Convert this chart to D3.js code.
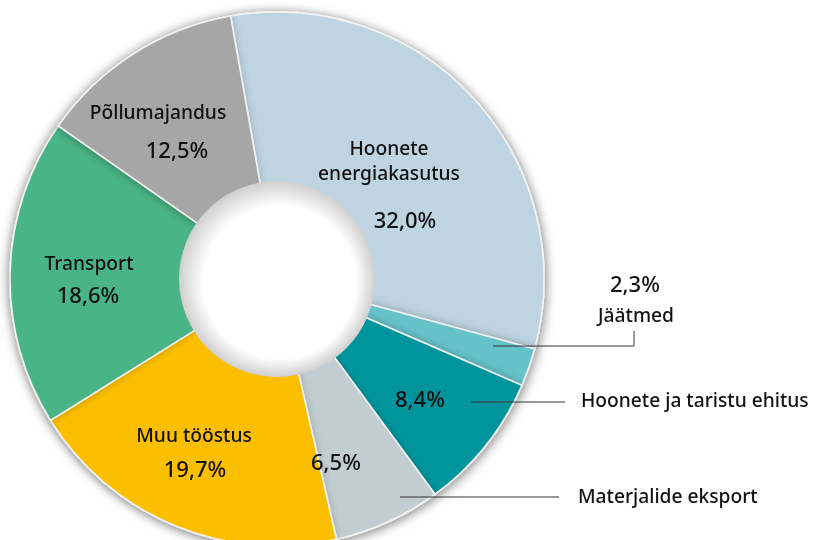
<!DOCTYPE html>
<html>
<head>
<meta charset="utf-8">
<script src="https://cdn.jsdelivr.net/npm/d3@7"></script>
<style>
  body { margin: 0; background: #fff; }
  svg { display: block; font-family: "Noto Sans", "Open Sans", sans-serif; }
</style>
</head>
<body>
<svg id="chart" width="818" height="540"></svg>
<script>
// data, clockwise from top
const categories = ["Hoonete energiakasutus", "Jäätmed", "Hoonete ja taristu ehitus",
  "Materjalide eksport", "Muu tööstus", "Transport", "Põllumajandus"];
const shares = [32.0, 2.3, 8.4, 6.5, 19.7, 18.6, 12.5];
const sliceColors = ["#bed4e1", "#66c2c9", "#03959c", "#c2cdd1", "#fcbf00", "#48b586", "#a6a6a6"];

const fmt = v => d3.format(".1f")(v).replace(".", ",") + "%";

const svg = d3.select("#chart");
const cx = 277, cy = 279;
const outerR = 267, innerR = 98;
const nameSize = 19.2, pctSize = 22;

const defs = svg.append("defs");
defs.append("filter").attr("id", "outer").attr("x", "-20%").attr("y", "-20%")
  .attr("width", "140%").attr("height", "140%")
  .append("feDropShadow").attr("dx", 3).attr("dy", 3).attr("stdDeviation", 5)
  .attr("flood-color", "#000").attr("flood-opacity", 0.28);
defs.append("filter").attr("id", "slice").attr("x", "-20%").attr("y", "-20%")
  .attr("width", "140%").attr("height", "140%")
  .append("feDropShadow").attr("dx", -2).attr("dy", 0).attr("stdDeviation", 5)
  .attr("flood-color", "#000").attr("flood-opacity", 0.3);
const hole = defs.append("radialGradient").attr("id", "hole")
  .attr("cx", "50%").attr("cy", "50%").attr("r", "50%")
  .attr("fx", "57%").attr("fy", "58%");
hole.append("stop").attr("offset", "0%").attr("stop-color", "#fff");
hole.append("stop").attr("offset", "78%").attr("stop-color", "#fff");
hole.append("stop").attr("offset", "100%").attr("stop-color", "#cfcfcf");

const data = categories.map((c, i) => ({ name: c, value: shares[i], color: sliceColors[i] }));

const pie = d3.pie().sort(null).value(d => d.value)
  .startAngle(-10 * Math.PI / 180).endAngle(350 * Math.PI / 180);
const arc = d3.arc().innerRadius(innerR - 2).outerRadius(outerR);

const g = svg.append("g").attr("transform", `translate(${cx},${cy})`);
const ring = g.append("g").attr("filter", "url(#outer)");

ring.selectAll("path.slice")
  .data(pie(data))
  .enter()
  .append("path")
  .attr("class", "slice")
  .attr("d", arc)
  .attr("fill", d => d.data.color)
  .attr("stroke", "#f2f2f2")
  .attr("stroke-width", 1.6)
  .attr("filter", "url(#slice)");

g.append("circle").attr("r", innerR).attr("fill", "url(#hole)");

// labels (offsets relative to chart centre)
const inside = [
  { i: 0, lines: ["Hoonete", "energiakasutus"], x: 112, y: [-124, -99], px: 128, py: -51 },
  { i: 6, lines: ["Põllumajandus"], x: -119, y: [-160], px: -100, py: -121 },
  { i: 5, lines: ["Transport"], x: -188, y: [-9], px: -189, py: 24 },
  { i: 4, lines: ["Muu tööstus"], x: -83, y: [163], px: -82, py: 198 },
  { i: 3, lines: [], x: 59, y: [], px: 59, py: 191 },
  { i: 2, lines: [], x: 143, y: [], px: 143, py: 128 }
];

inside.forEach(l => {
  l.lines.forEach((t, k) => {
    g.append("text").attr("x", l.x).attr("y", l.y[k])
      .attr("text-anchor", "middle").attr("font-size", nameSize).attr("font-weight", 500)
      .attr("fill", "#111").text(t);
  });
  g.append("text").attr("x", l.px).attr("y", l.py)
    .attr("text-anchor", "middle").attr("font-size", pctSize).attr("font-weight", 500)
    .attr("fill", "#111").text(fmt(shares[l.i]));
});

// callouts on the right
const line = d3.line();
g.append("path").attr("fill", "none").attr("stroke", "#333").attr("stroke-width", 1)
  .attr("d", line([[216, 67], [357, 67], [357, 52]]));
g.append("text").attr("x", 358).attr("y", 13).attr("text-anchor", "middle")
  .attr("font-size", pctSize).attr("font-weight", 500).attr("fill", "#111").text(fmt(shares[1]));
g.append("text").attr("x", 359).attr("y", 43).attr("text-anchor", "middle")
  .attr("font-size", nameSize).attr("font-weight", 500).attr("fill", "#111").text(categories[1]);

g.append("path").attr("fill", "none").attr("stroke", "#333").attr("stroke-width", 1)
  .attr("d", line([[194, 123], [288, 123]]));
g.append("text").attr("x", 304).attr("y", 128)
  .attr("font-size", nameSize).attr("font-weight", 500).attr("fill", "#111").text(categories[2]);

g.append("path").attr("fill", "none").attr("stroke", "#333").attr("stroke-width", 1)
  .attr("d", line([[123, 218], [282, 218]]));
g.append("text").attr("x", 301).attr("y", 224)
  .attr("font-size", nameSize).attr("font-weight", 500).attr("fill", "#111").text(categories[3]);
</script>
</body>
</html>
